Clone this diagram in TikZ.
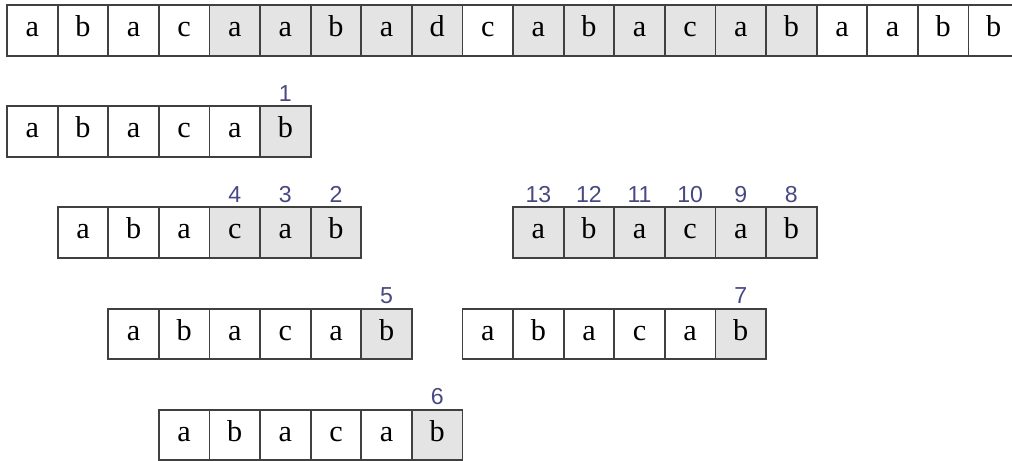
\documentclass[tikz,border=0pt]{standalone}
\usepackage{fontspec}
\setmainfont{Liberation Serif}
\setsansfont{Liberation Sans}
\usetikzlibrary{positioning}
\definecolor{cellgray}{RGB}{228,228,228}
\definecolor{cellline}{RGB}{64,64,64}
\definecolor{idxblue}{RGB}{72,72,130}

\begin{document}
\begin{tikzpicture}[
node distance=0pt,
cell/.style={draw=cellline, line width=1.1pt, fill=white, minimum size=1cm, inner sep=0pt, text height=0.7em, text depth=0pt, font=\fontsize{17}{17}\selectfont},
hit/.style={cell, fill=cellgray},
idx/.style={inner sep=0pt, text=idxblue, font=\sffamily\fontsize{13}{15}\selectfont}
]
\useasboundingbox (-0.14,0) rectangle (19.86,-9.11);

% text row
\foreach \ch/\st [count=\i from 0] in {a/cell,b/cell,a/cell,c/cell,a/hit,a/hit,b/hit,a/hit,d/hit,c/cell,a/hit,b/hit,a/hit,c/hit,a/hit,b/hit,a/cell,a/cell,b/cell,b/cell} {
  \node[\st] (t\i) at (\i+0.5,-0.6) {\ch};
}

% pattern rows: name/offset/y/first shaded cell
\foreach \name/\off/\y/\first in {A/0/-2.6/5, B/1/-4.6/3, C/10/-4.6/0, D/2/-6.6/5, E/9/-6.6/5, F/3/-8.6/5} {
  \foreach \ch [count=\j from 0] in {a,b,a,c,a,b} {
    \ifnum\j<\first \def\st{cell}\else\def\st{hit}\fi
    \node[\st] (\name\j) at (\off+\j+0.5,\y) {\ch};
  }
}

% comparison order
\node[idx, above=2pt of A5] (n1) {1};
\node[idx, above=2pt of B5] (n2) {2};
\node[idx, above=2pt of B4] (n3) {3};
\node[idx, above=2pt of B3] (n4) {4};
\node[idx, above=2pt of D5] (n5) {5};
\node[idx, above=2pt of F5] (n6) {6};
\node[idx, above=2pt of E5] (n7) {7};
\foreach \j/\k in {5/8,4/9,3/10,2/11,1/12,0/13} {
  \node[idx, above=2pt of C\j] (n\k) {\k};
}
\end{tikzpicture}
\end{document}
